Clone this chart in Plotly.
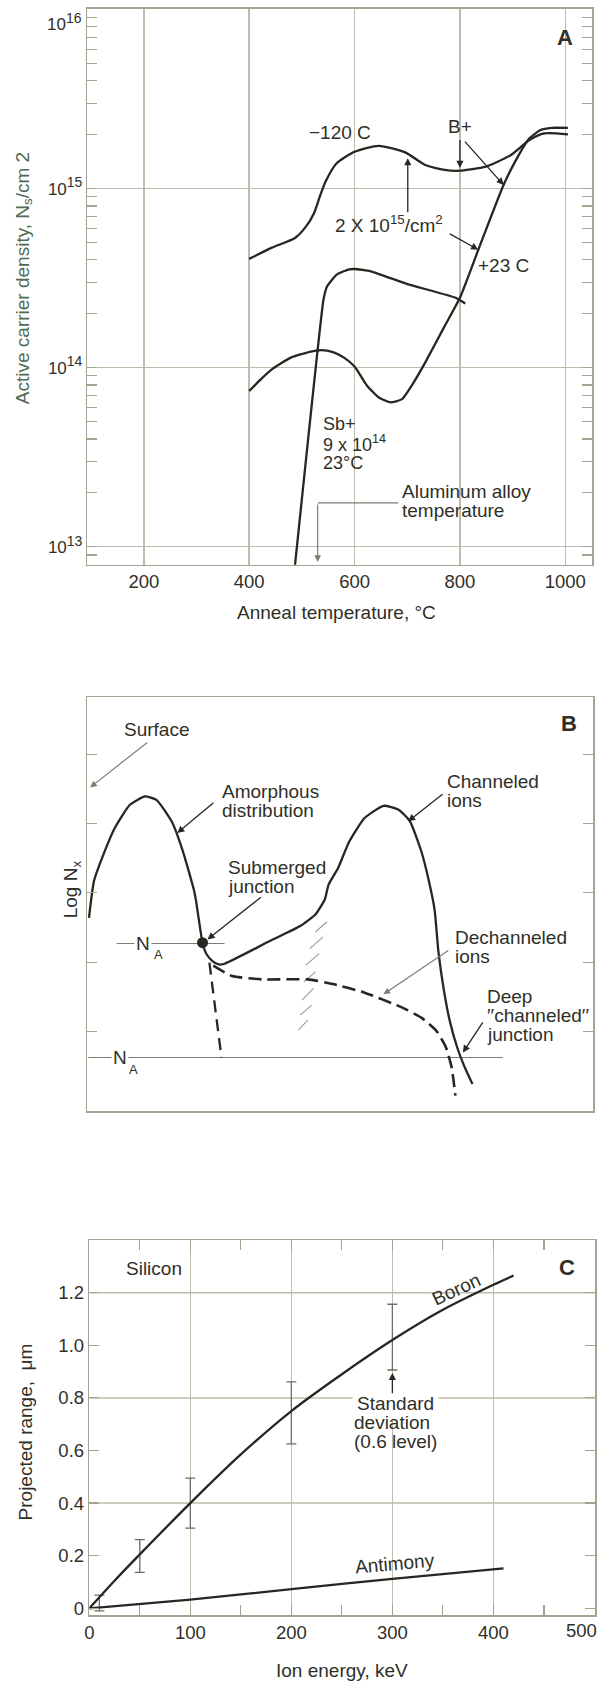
import plotly.graph_objects as go

W, H = 599, 1684
FONT = "Liberation Sans, Arial, Helvetica, sans-serif"
INK = "#2f2f28"
CURVE = "#262622"
FRAME = "#a4a493"
GRID = "#bdbdad"
THIN = "#7d7d70"
GREEN = "#4f6b52"
FS = 19
SUP = "<sup><span style='font-size:14px'>%d</span></sup>"

# ---------------- Panel A: active carrier density vs anneal temperature ----------------
anneal_ticks = [200, 400, 600, 800, 1000]
density_ticks = [1e13, 1e14, 1e15, 1e16]
density_ticktext = ["10" + SUP % 13, "10" + SUP % 14, "10" + SUP % 15, ""]
density_minor = [m * 10.0 ** e for e in (12, 13, 14, 15) for m in range(2, 10)]

boron_cold_T = [400, 443, 487, 508, 523, 534, 545, 566, 600, 646, 697, 734, 771, 800, 849, 897, 932, 960, 1005]
boron_cold_N = [4.05e14, 4.68e14, 5.30e14, 6.15e14, 7.29e14, 9.02e14, 1.094e15, 1.384e15, 1.607e15,
                1.734e15, 1.589e15, 1.355e15, 1.271e15, 1.259e15, 1.327e15, 1.542e15, 1.866e15,
                2.032e15, 2.009e15]

boron_rt_T = [400, 422, 443, 479, 515, 537, 559, 580, 600, 624, 646, 668, 690, 712, 734, 771, 800,
              835, 883, 911, 932, 953, 974, 1005]
boron_rt_N = [7.41e13, 8.61e13, 9.79e13, 1.138e14, 1.227e14, 1.253e14, 1.222e14, 1.138e14, 1.014e14,
              7.91e13, 6.82e13, 6.40e13, 6.67e13, 8.26e13, 1.067e14, 1.706e14, 2.455e14, 4.56e14,
              1.050e15, 1.528e15, 1.910e15, 2.123e15, 2.183e15, 2.183e15]

sb_T = [480, 487, 541, 548, 566, 588, 600, 631, 700, 792, 810]
sb_N = [5.13e12, 7.94e12, 2.404e14, 2.851e14, 3.311e14, 3.532e14, 3.556e14, 3.451e14, 2.931e14,
        2.455e14, 2.280e14]

alloy_temp = 530
alloy_bracket_T = [683, 530]
alloy_bracket_N = [1.758e13, 1.758e13]

# ---------------- Panel B: depth profile (arbitrary units) ----------------
profile_depth = [0.033, 0.131, 0.318, 0.543, 0.843, 1.141, 1.367, 1.667, 1.890, 2.114, 2.151, 2.278,
                 2.353, 2.475, 2.600, 2.714, 3.608, 4.210, 4.510, 4.696, 4.771, 4.959, 5.182, 5.482,
                 5.857, 6.157, 6.380, 6.604, 6.755, 6.867, 6.941, 7.053, 7.167, 7.314, 7.465, 7.616]
profile_logN = [2.640, 3.168, 3.551, 3.935, 4.271, 4.391, 4.342, 4.032, 3.600, 3.024, 2.881, 2.281,
                2.122, 2.017, 1.968, 1.978, 2.305, 2.521, 2.688, 2.904, 3.119, 3.360, 3.744, 4.079,
                4.256, 4.199, 4.032, 3.600, 3.168, 2.755, 2.161, 1.585, 1.154, 0.770, 0.482, 0.242]

amorph_tail_depth = [2.414, 2.653]
amorph_tail_logN = [1.993, 0.626]

dechan_depth = [2.49, 2.863, 3.461, 4.359, 4.882, 5.482, 6.231, 6.604, 6.902, 7.092, 7.204, 7.278]
dechan_logN = [1.95, 1.801, 1.752, 1.752, 1.681, 1.561, 1.345, 1.201, 1.010, 0.770, 0.482, 0.075]

junction_depth = [2.278]
junction_logN = [2.281]

na_upper_depth = [0.58, 2.714]
na_upper_logN = [2.27, 2.27]
na_lower_depth = [0.02, 8.216]
na_lower_logN = [0.626, 0.626]

hatch_depth = [4.510, 4.735, None, 4.398, 4.659, None, 4.322, 4.584, None, 4.284, 4.510, None,
               4.247, 4.471, None, 4.210, 4.435, None, 4.173, 4.359]
hatch_logN = [2.436, 2.580, None, 2.196, 2.363, None, 1.957, 2.125, None, 1.717, 1.861, None,
              1.453, 1.622, None, 1.237, 1.381, None, 1.022, 1.165]

logn_ticks = [1, 2, 3, 4, 5]

# ---------------- Panel C: projected range vs ion energy ----------------
energy_ticks = [0, 100, 200, 300, 400, 500]
energy_ticktext = ["0", "100", "200", "300", "400", ""]
range_ticks = [0, 0.2, 0.4, 0.6, 0.8, 1.0, 1.2]
range_ticktext = ["0", "0.2", "0.4", "0.6", "0.8", "1.0", "1.2"]
range_grid = [0.4, 0.8, 1.2]

boron_E = [0, 25, 50, 100, 150, 200, 250, 300, 350, 400, 420]
boron_R = [0, 0.105, 0.205, 0.40, 0.585, 0.75, 0.89, 1.02, 1.135, 1.23, 1.265]
antimony_E = [0, 100, 200, 300, 410]
antimony_R = [0, 0.033, 0.073, 0.112, 0.152]
sd_E = [10, 50, 100, 200, 300]
sd_R = [0.02, 0.199, 0.40, 0.743, 1.031]
sd_half = [0.03, 0.062, 0.095, 0.118, 0.125]

fig = go.Figure()

curve = dict(color=CURVE, width=2.3)

# Panel A traces
fig.add_trace(go.Scatter(x=boron_cold_T, y=boron_cold_N, mode="lines",
                         line=dict(curve, shape="spline", smoothing=0.6), xaxis="x", yaxis="y"))
fig.add_trace(go.Scatter(x=boron_rt_T, y=boron_rt_N, mode="lines",
                         line=dict(curve, shape="spline", smoothing=0.5), xaxis="x", yaxis="y"))
fig.add_trace(go.Scatter(x=sb_T, y=sb_N, mode="lines",
                         line=dict(curve, shape="spline", smoothing=0.4), xaxis="x", yaxis="y"))
fig.add_trace(go.Scatter(x=alloy_bracket_T, y=alloy_bracket_N, mode="lines",
                         line=dict(color=THIN, width=1.2), xaxis="x", yaxis="y"))

# Panel B traces
fig.add_trace(go.Scatter(x=na_upper_depth, y=na_upper_logN, mode="lines",
                         line=dict(color=THIN, width=1.2), xaxis="x2", yaxis="y2"))
fig.add_trace(go.Scatter(x=na_lower_depth, y=na_lower_logN, mode="lines",
                         line=dict(color=THIN, width=1.2), xaxis="x2", yaxis="y2"))
fig.add_trace(go.Scatter(x=hatch_depth, y=hatch_logN, mode="lines",
                         line=dict(color="#9c9c8c", width=1.1), xaxis="x2", yaxis="y2"))
fig.add_trace(go.Scatter(x=profile_depth, y=profile_logN, mode="lines",
                         line=dict(curve, shape="spline", smoothing=0.5), xaxis="x2", yaxis="y2"))
fig.add_trace(go.Scatter(x=amorph_tail_depth, y=amorph_tail_logN, mode="lines",
                         line=dict(color=CURVE, width=2.3, dash="12px,7px"), xaxis="x2", yaxis="y2"))
fig.add_trace(go.Scatter(x=dechan_depth, y=dechan_logN, mode="lines",
                         line=dict(color=CURVE, width=2.6, dash="13px,6px", shape="spline", smoothing=0.5),
                         xaxis="x2", yaxis="y2"))
fig.add_trace(go.Scatter(x=junction_depth, y=junction_logN, mode="markers",
                         marker=dict(size=11, color=CURVE), xaxis="x2", yaxis="y2"))

# Panel C traces
fig.add_trace(go.Scatter(x=sd_E, y=sd_R, mode="markers", marker=dict(size=1, color="rgba(0,0,0,0)"),
                         error_y=dict(type="data", array=sd_half, color="#6e6e62", thickness=1.3, width=5),
                         xaxis="x3", yaxis="y3"))
fig.add_trace(go.Scatter(x=boron_E, y=boron_R, mode="lines",
                         line=dict(curve, shape="spline", smoothing=0.8), xaxis="x3", yaxis="y3"))
fig.add_trace(go.Scatter(x=antimony_E, y=antimony_R, mode="lines",
                         line=dict(curve, shape="spline", smoothing=0.6), xaxis="x3", yaxis="y3"))

ann = []


def text(t, x, y, xr, yr, size=FS, xanchor="center", yshift=0, **kw):
    d = dict(text=t, x=x, y=y, xref=xr, yref=yr, showarrow=False,
             font=dict(size=size, color=kw.pop("color", INK), family=FONT),
             xanchor=xanchor, yanchor="middle", yshift=yshift)
    d.update(kw)
    ann.append(d)


def lines(ts, x, y, xr, yr, step=19, **kw):
    for i, t in enumerate(ts):
        text(t, x, y, xr, yr, xanchor="left", yshift=-step * i, **kw)


def arrow(x, y, ax, ay, xr, yr, color=CURVE, width=1.3, head=2, size=1.1):
    ann.append(dict(text="", x=x, y=y, ax=ax, ay=ay, xref=xr, yref=yr, axref=xr, ayref=yr,
                    showarrow=True, arrowhead=head, arrowsize=size, arrowwidth=width,
                    arrowcolor=color, standoff=0, startstandoff=0))


# Panel A annotations (log axis -> y in log10)
text("10" + SUP % 16, 80 / W, 1 - 22 / H, "paper", "paper", size=17, xanchor="right")
text("<b>A</b>", 1000, 15.844, "x", "y", size=22)
text("−120 C", 573, 15.312, "x", "y")
text("B+", 800, 15.345, "x", "y")
arrow(800, 15.115, 800, 15.28, "x", "y")
arrow(883, 15.02, 807, 15.271, "x", "y")
text("2 X 10<sup>15</sup>/cm<sup>2</sup>", 666, 14.80, "x", "y")
arrow(701, 15.17, 701, 14.86, "x", "y")
arrow(834.7, 14.659, 778, 14.752, "x", "y")
text("+23 C", 883, 14.568, "x", "y")
text("Sb+", 537, 13.684, "x", "y", xanchor="left", size=18)
text("9 x 10<sup>14</sup>", 537, 13.684, "x", "y", xanchor="left", size=18, yshift=-19)
text("23°C", 537, 13.684, "x", "y", xanchor="left", size=18, yshift=-39)
lines(["Aluminum alloy", "temperature"], 686, 13.307, "x", "y")
arrow(alloy_temp, 12.915, alloy_temp, 13.245, "x", "y", color=THIN, width=1.2)

# Panel B annotations
text("<b>B</b>", 9.523, 5.446, "x2", "y2", size=22)
text("Surface", 1.367, 5.35, "x2", "y2")
arrow(0.057, 4.521, 1.216, 5.187, "x2", "y2", color=THIN, width=1.2)
lines(["Amorphous", "distribution"], 2.624, 4.463, "x2", "y2")
arrow(1.778, 3.863, 2.525, 4.319, "x2", "y2")
lines(["Channeled", "ions"], 7.076, 4.607, "x2", "y2")
arrow(6.343, 4.032, 7.053, 4.439, "x2", "y2")
lines(["Submerged", "junction"], 2.735, 3.370, "x2", "y2")
arrow(2.376, 2.328, 3.461, 2.953, "x2", "y2")
lines(["Dechanneled", "ions"], 7.225, 2.363, "x2", "y2")
arrow(5.857, 1.537, 7.167, 2.184, "x2", "y2", color=THIN, width=1.2)
lines(["Deep", "\u2032\u2032channeled\u2032\u2032", "junction"], 7.863, 1.499, "x2", "y2")
arrow(7.427, 0.698, 7.839, 1.154, "x2", "y2")
text("N", 1.104, 2.27, "x2", "y2", bgcolor="white", borderpad=1)
text("A", 1.404, 2.112, "x2", "y2", size=13, bgcolor="white", borderpad=1)
text("N", 0.655, 0.626, "x2", "y2", bgcolor="white", borderpad=1)
text("A", 0.922, 0.458, "x2", "y2", size=13)
text("Depth", 4.137, -0.478, "x2", "y2")
arrow(5.857, -0.478, 4.843, -0.478, "x2", "y2", color=THIN, width=1.3)

# Panel C annotations
text("500", 1.0, 1 - 1634 / H, "paper", "paper", size=18.5, xanchor="right")
text("<b>C</b>", 473, 1.297, "x3", "y3", size=22)
text("Silicon", 64, 1.291, "x3", "y3")
text("Boron", 363, 1.212, "x3", "y3", textangle=-25)
text("Antimony", 303, 0.170, "x3", "y3", textangle=-5)
text("Standard", 260, 0.777, "x3", "y3", xanchor="left", bgcolor="white", borderpad=4)
text("deviation", 260, 0.777, "x3", "y3", xanchor="left", yshift=-19)
text("(0.6 level)", 260, 0.777, "x3", "y3", xanchor="left", yshift=-38)
arrow(300, 0.895, 300, 0.812, "x3", "y3")

# Axis titles (paper coordinates)
text("Active carrier density, N<sub>s</sub>/cm 2", 19 / W, 1 - 279 / H, "paper", "paper",
     textangle=-90, color=GREEN)
text("Anneal temperature, °C", 334 / W, 1 - 614 / H, "paper", "paper")
text("Log N<sub>x</sub>", 67 / W, 1 - 891 / H, "paper", "paper", textangle=-90)
text("Projected range,  μm", 21 / W, 1 - 1435 / H, "paper", "paper", textangle=-90)
text("Ion energy, keV", 340 / W, 1 - 1674 / H, "paper", "paper")

shapes = [dict(type="line", xref="x3 domain", x0=0, x1=1, yref="y3", y0=v, y1=v,
               line=dict(color=GRID, width=1.5), layer="below") for v in range_grid]

axis_common = dict(showline=True, linecolor=FRAME, linewidth=1.5, zeroline=False,
                   tickcolor=FRAME, tickwidth=1.2, ticklen=10,
                   tickfont=dict(size=18.5, color=INK, family=FONT))

fig.update_layout(
    width=W, height=H, margin=dict(l=0, r=0, t=0, b=0),
    paper_bgcolor="white", plot_bgcolor="white", showlegend=False, hovermode=False,
    font=dict(family=FONT, size=FS, color=INK),
    annotations=ann, shapes=shapes,
    xaxis=dict(axis_common, domain=[83 / W, 592 / W], range=[92.7, 1050.8], anchor="y",
               tickmode="array", tickvals=anneal_ticks, ticks="", mirror=True,
               showgrid=True, gridcolor=GRID, gridwidth=1.5),
    yaxis=dict(axis_common, domain=[1 - 566 / H, 1 - 9 / H], type="log", range=[12.9, 16.003], anchor="x",
               tickmode="array", tickvals=density_ticks, ticktext=density_ticktext, ticks="inside",
               tickfont=dict(size=17, color=INK, family=FONT),
               mirror="allticks", showgrid=True, gridcolor=GRID, gridwidth=1.5,
               minor=dict(tickmode="array", tickvals=density_minor, ticks="inside", ticklen=10,
                          tickcolor=FRAME, tickwidth=1.2, showgrid=False)),
    xaxis2=dict(axis_common, domain=[83 / W, 593 / W], range=[0, 10], anchor="y2",
                showticklabels=False, ticks="", mirror=True, showgrid=False),
    yaxis2=dict(axis_common, domain=[1 - 1114 / H, 1 - 699 / H], range=[-0.151, 5.82], anchor="x2",
                tickmode="array", tickvals=logn_ticks, showticklabels=False, ticks="inside",
                mirror="allticks", showgrid=False),
    xaxis3=dict(axis_common, domain=[85 / W, 595 / W], range=[0, 500.6], anchor="y3",
                tickmode="array", tickvals=energy_ticks, ticktext=energy_ticktext, ticks="inside",
                mirror="allticks", showgrid=True, gridcolor=GRID, gridwidth=1.5,
                minor=dict(tick0=0, dtick=50, ticks="inside", ticklen=10, tickcolor=FRAME,
                           tickwidth=1.2, showgrid=False)),
    yaxis3=dict(axis_common, domain=[1 - 1619 / H, 1 - 1243 / H], range=[-0.026, 1.4], anchor="x3",
                tickmode="array", tickvals=range_ticks, ticktext=range_ticktext, ticks="inside",
                mirror="allticks", showgrid=False),
)

fig.write_html("out.html", config={"displayModeBar": False, "staticPlot": True},
               post_script="document.body.style.margin='0px';")
